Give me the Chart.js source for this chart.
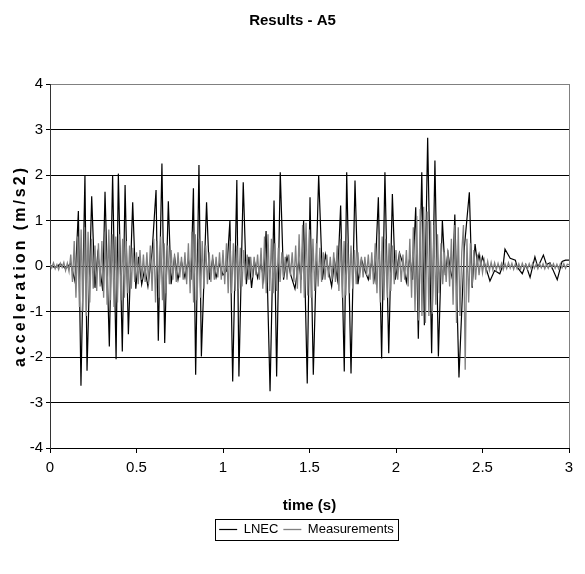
<!DOCTYPE html>
<html lang="en">
<head>
  <meta charset="UTF-8" />
  <title>Results - A5</title>
  <script src="https://cdn.jsdelivr.net/npm/chart.js"></script>
  <style>
    html, body { margin: 0; padding: 0; background: #fff; }
    #wrap { width: 585px; height: 574px; position: relative; }
  </style>
</head>
<body>
  <div id="wrap"><canvas id="accChart"></canvas></div>

  <script>
    // LNEC model response: (time, acceleration) at the turning points of the trace
    const lnecTime = [
      0.00, 0.03, 0.06, 0.09, 0.12, 0.145, 0.164, 0.179, 0.202, 0.214,
      0.241, 0.260, 0.276, 0.292, 0.305, 0.318, 0.343, 0.362, 0.382, 0.395,
      0.418, 0.434, 0.453, 0.478, 0.496, 0.512, 0.530, 0.548, 0.566, 0.590,
      0.613, 0.626, 0.647, 0.663, 0.684, 0.700, 0.720, 0.740, 0.760, 0.780,
      0.800, 0.815, 0.829, 0.842, 0.861, 0.875, 0.905, 0.922, 0.940, 0.960,
      0.980, 1.000, 1.022, 1.040, 1.056, 1.080, 1.092, 1.117, 1.135, 1.150,
      1.165, 1.182, 1.200, 1.220, 1.235, 1.249, 1.272, 1.295, 1.310, 1.331,
      1.350, 1.370, 1.392, 1.416, 1.438, 1.452, 1.466, 1.487, 1.503, 1.522,
      1.553, 1.575, 1.592, 1.610, 1.628, 1.645, 1.662, 1.680, 1.701, 1.715,
      1.740, 1.763, 1.780, 1.800, 1.820, 1.840, 1.860, 1.878, 1.898, 1.917,
      1.936, 1.958, 1.979, 1.996, 2.020, 2.040, 2.060, 2.080, 2.096, 2.114,
      2.129, 2.149, 2.164, 2.183, 2.206, 2.225, 2.245, 2.268, 2.285, 2.300,
      2.315, 2.327, 2.340, 2.364, 2.395, 2.424, 2.440, 2.457, 2.470, 2.480,
      2.490, 2.500, 2.543, 2.570, 2.600, 2.620, 2.630, 2.660, 2.690, 2.700,
      2.730, 2.750, 2.775, 2.803, 2.820, 2.852, 2.870, 2.890, 2.932, 2.960,
      2.980, 3.000
    ];
    const lnecAcc = [
      0.02, -0.04, 0.05, -0.06, 0.06, -0.35, 1.21, -2.63, 2.00, -2.30,
      1.53, -0.48, 0.27, -0.15, -0.55, 1.63, -1.77, 2.00, -2.05, 2.03,
      -1.88, 1.78, -1.50, 1.40, -0.50, 0.20, -0.40, -0.05, -0.45, 0.30,
      1.67, -1.64, 2.25, -1.69, 1.42, -0.40, 0.20, -0.30, 0.10, -0.25,
      0.15, -0.30, 1.71, -2.39, 2.22, -1.99, 1.40, -0.30, 0.15, -0.25,
      0.05, -0.20, -0.10, 1.00, -2.54, 1.89, -2.43, 1.84, -0.40, 0.20,
      -0.48, 0.10, -0.26, 0.05, -0.30, 0.77, -2.75, 1.44, -2.43, 2.06,
      -0.30, 0.20, -0.20, -0.50, 0.10, -0.30, 1.00, -2.58, 1.51, -2.39,
      2.00, -0.30, 0.25, -0.10, -0.45, 0.10, -0.30, 1.33, -2.32, 2.06,
      -2.36, 1.88, -0.40, 0.15, -0.10, -0.30, 0.10, -0.30, 1.51, -2.03,
      2.06, -1.92, 1.58, -0.30, 0.29, 0.05, -0.35, 0.20, -0.30, 1.29,
      -1.60, 2.06, -1.30, 2.82, -1.92, 2.32, -1.99, 1.00, -0.20, 0.30,
      -0.10, -0.30, 1.13, -2.45, 0.40, 1.62, -0.48, 0.48, 0.07, 0.26,
      0.04, 0.20, -0.33, -0.10, -0.17, 0.04, 0.37, 0.17, 0.13, -0.02,
      -0.17, 0.03, -0.25, 0.20, -0.03, 0.24, 0.03, 0.07, -0.30, 0.10,
      0.13, 0.13
    ];

    // measured record, sampled every 0.01 s from t = 0 (one row = 0.1 s)
    const MEAS_DT = 0.01;
    const measAcc = [
      0.05, -0.04, 0.07, -0.06, 0.03, -0.08, 0.06, -0.03, 0.08, -0.10,
      0.06, -0.12, 0.25, -0.35, 0.55, -0.70, 0.65, -0.90, 0.80, -1.00,
      0.85, -1.10, 0.75, -0.80, 0.60, -0.50, 0.45, -0.55, 0.50, -0.45,
      0.55, -0.70, 0.75, -0.85, 0.80, -0.75, 0.70, -0.90, 0.65, -0.80,
      0.70, -0.75, 0.60, -0.70, 0.55, -0.60, 0.45, -0.50, 0.40, -0.35,
      0.30, -0.40, 0.35, -0.30, 0.25, -0.35, 0.30, -0.40, 0.45, -0.55,
      0.60, -0.80, 0.55, -0.70, 0.65, -0.75, 0.50, -0.60, 0.45, -0.40,
      0.35, -0.30, 0.25, -0.35, 0.30, -0.25, 0.20, -0.30, 0.30, -0.40,
      0.50, -0.60, 0.75, -0.80, 0.70, -0.75, 0.60, -0.70, 0.55, -0.50,
      0.45, -0.40, 0.30, -0.35, 0.25, -0.30, 0.20, -0.25, 0.30, -0.30,
      0.35, -0.40, 0.50, -0.60, 0.55, -0.60, 0.50, -0.55, 0.45, -0.50,
      0.40, -0.45, 0.35, -0.30, 0.25, -0.30, 0.20, -0.25, 0.20, -0.20,
      0.25, -0.30, 0.40, -0.50, 0.65, -0.60, 0.70, -0.55, 0.60, -0.60,
      0.50, -0.55, 0.40, -0.35, 0.30, -0.25, 0.20, -0.30, 0.25, -0.20,
      0.30, -0.35, 0.45, -0.50, 0.70, -0.60, 0.90, -0.70, 0.95, -0.65,
      0.80, -0.70, 0.60, -0.55, 0.50, -0.45, 0.40, -0.35, 0.30, -0.30,
      0.25, -0.25, 0.20, -0.30, 0.30, -0.35, 0.45, -0.55, 0.60, -0.70,
      0.55, -0.65, 0.50, -0.60, 0.45, -0.50, 0.35, -0.40, 0.30, -0.25,
      0.20, -0.25, 0.20, -0.20, 0.25, -0.30, 0.30, -0.40, 0.50, -0.60,
      0.70, -0.80, 0.65, -0.75, 0.60, -0.70, 0.50, -0.55, 0.45, -0.40,
      0.35, -0.30, 0.30, -0.35, 0.25, -0.30, 0.35, -0.45, 0.60, -0.70,
      0.85, -1.00, 1.10, -1.20, 1.25, -1.10, 1.30, -1.25, 1.20, -1.10,
      1.00, -1.05, 0.90, -0.85, 0.70, -0.60, 0.50, -0.40, 0.30, -0.35,
      0.35, -0.45, 0.60, -0.85, 0.90, -1.25, 0.85, -1.10, 0.30, 0.90,
      -2.28, 0.60, -0.80, 0.50, -0.45, 0.35, -0.30, 0.25, -0.20, 0.15,
      -0.15, 0.12, -0.12, 0.10, -0.10, 0.08, -0.09, 0.07, -0.08, 0.06,
      -0.07, 0.06, -0.08, 0.05, -0.06, 0.07, -0.05, 0.06, -0.07, 0.05,
      -0.06, 0.05, -0.07, 0.06, -0.05, 0.04, -0.06, 0.05, -0.05, 0.06,
      -0.05, 0.04, -0.06, 0.05, -0.04, 0.05, -0.06, 0.04, -0.05, 0.05,
      -0.04, 0.05, -0.05, 0.04, -0.06, 0.05, -0.04, 0.05, -0.05, 0.04,
      0.03
    ];

    const seriesNames = ['LNEC', 'Measurements'];
    const xTicks = [0, 0.5, 1, 1.5, 2, 2.5, 3];
    const yTicks = [-4, -3, -2, -1, 0, 1, 2, 3, 4];

    const FONT = "'Liberation Sans', Arial, sans-serif";

    const lnecPts = lnecTime.map((t, i) => ({ x: t, y: lnecAcc[i] }));
    const measPts = measAcc.map((a, i) => ({ x: i * MEAS_DT, y: a }));

    // y title is drawn by hand so the letters can be spaced out
    const yTitlePlugin = {
      id: 'yTitle',
      afterDraw(chart) {
        const { ctx, chartArea } = chart;
        ctx.save();
        ctx.translate(21, (chartArea.top + chartArea.bottom) / 2);
        ctx.rotate(-Math.PI / 2);
        ctx.font = "bold 16px " + FONT;
        ctx.letterSpacing = '3px';
        ctx.fillStyle = '#000';
        ctx.textAlign = 'center';
        ctx.textBaseline = 'middle';
        ctx.fillText('acceleration (m/s2)', 0, 0);
        ctx.restore();
      }
    };

    // nudge the title and legend right so they sit over the plot area
    const shiftBoxes = {
      id: 'shiftBoxes',
      afterLayout(chart) {
        const t = chart.titleBlock, l = chart.legend;
        if (t) { t.left += 8; t.right += 8; }
        if (l) { l.left += 22; l.right += 22; }
      }
    };

    // frame around the legend
    const legendFrame = {
      id: 'legendFrame',
      afterDraw(chart) {
        const boxes = chart.legend.legendHitBoxes;
        if (!boxes || !boxes.length) return;
        const left = Math.min(...boxes.map(b => b.left)) - 4;
        const right = Math.max(...boxes.map(b => b.left + b.width)) + 4;
        const top = boxes[0].top - 4;
        const h = boxes[0].height + 8;
        const ctx = chart.ctx;
        ctx.save();
        ctx.strokeStyle = '#000';
        ctx.lineWidth = 1;
        ctx.strokeRect(Math.round(left) + 0.5, Math.round(top) + 0.5, Math.round(right - left), Math.round(h));
        ctx.restore();
      }
    };

    new Chart(document.getElementById('accChart'), {
      type: 'line',
      data: {
        datasets: [
          {
            label: seriesNames[1],
            data: measPts,
            borderColor: '#808080',
            backgroundColor: '#808080',
            borderWidth: 1.3,
            pointRadius: 0,
            tension: 0
          },
          {
            label: seriesNames[0],
            data: lnecPts,
            borderColor: '#000000',
            backgroundColor: '#000000',
            borderWidth: 1.2,
            pointRadius: 0,
            tension: 0
          }
        ]
      },
      options: {
        responsive: true,
        maintainAspectRatio: false,
        animation: false,
        layout: { padding: { left: 0, right: 16, top: 0, bottom: 28 } },
        plugins: {
          title: {
            display: true,
            text: 'Results - A5',
            color: '#000',
            font: { family: FONT, size: 15, weight: 'bold' },
            padding: { top: 12, bottom: 54 }
          },
          legend: {
            position: 'bottom',
            reverse: true,
            labels: {
              color: '#000',
              font: { family: FONT, size: 13 },
              usePointStyle: true,
              pointStyle: 'line',
              pointStyleWidth: 18,
              padding: 5
            }
          },
          tooltip: { enabled: false }
        },
        scales: {
          x: {
            type: 'linear',
            min: 0,
            max: 3,
            afterBuildTicks: s => { s.ticks = xTicks.map(v => ({ value: v })); },
            afterFit: s => { s.height = 70; },
            ticks: {
              color: '#000',
              font: { family: FONT, size: 15 },
              padding: 6,
              maxRotation: 0,
              callback: v => String(v)
            },
            grid: {
              color: c => (c.tick && c.tick.value === 3) ? '#808080' : 'rgba(0,0,0,0)',
              tickColor: '#000',
              tickLength: 5,
              lineWidth: 1
            },
            border: { color: '#000', width: 1 },
            title: {
              display: true,
              text: 'time (s)',
              color: '#000',
              font: { family: FONT, size: 15, weight: 'bold' },
              padding: { top: 0, bottom: 3 }
            }
          },
          y: {
            min: -4,
            max: 4,
            afterBuildTicks: s => { s.ticks = yTicks.map(v => ({ value: v })); },
            afterFit: s => { s.width = 50; },
            ticks: {
              color: '#000',
              font: { family: FONT, size: 15 },
              padding: 3,
              callback: v => String(v)
            },
            grid: {
              color: c => (c.tick && c.tick.value === 4) ? '#808080' : '#000',
              tickColor: '#000',
              tickLength: 4,
              lineWidth: 1
            },
            border: { color: '#333', width: 1 }
          }
        }
      },
      plugins: [shiftBoxes, yTitlePlugin, legendFrame]
    });
  </script>
</body>
</html>
